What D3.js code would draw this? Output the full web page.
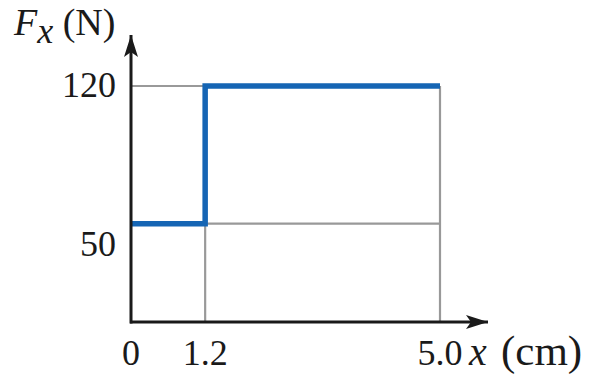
<!DOCTYPE html>
<html>
<head>
<meta charset="utf-8">
<script src="https://cdn.jsdelivr.net/npm/d3@7"></script>
<style>
  body { margin: 0; background: #fff; }
  text { font-family: "Liberation Serif", "DejaVu Serif", serif; fill: #1a1a1a; }
</style>
</head>
<body>
<div id="chart"></div>
<script>
var width = 600;
var height = 381;

// data
var stepX = [0, 1.2, 5.0];        // cm
var stepF = [50, 120, 120];       // N
var xTicks = [0, 1.2, 5.0];
var xTickLabels = ["0", "1.2", "5.0"];
var yTicks = [50, 120];
var yTickLabels = ["50", "120"];

var xScale = d3.scaleLinear().domain([0, 5.0]).range([131, 440]);
var yScale = d3.scaleLinear().domain([0, 120]).range([322, 86]);

var svg = d3.select("#chart")
  .append("svg")
  .attr("width", width)
  .attr("height", height);

// arrow heads
var defs = svg.append("defs");
defs.append("marker")
  .attr("id", "arrow")
  .attr("viewBox", "0 0 22 14")
  .attr("refX", 22)
  .attr("refY", 7)
  .attr("markerWidth", 22)
  .attr("markerHeight", 14)
  .attr("markerUnits", "userSpaceOnUse")
  .attr("orient", "auto")
  .append("path")
  .attr("d", "M0,0 L22,7 L0,14 L5,7 Z")
  .attr("fill", "#1a1a1a");

// grey guide lines
var grid = svg.append("g")
  .attr("stroke", "#999")
  .attr("stroke-width", 2.2)
  .attr("fill", "none");

grid.append("line")
  .attr("x1", xScale(0)).attr("x2", xScale(5.0))
  .attr("y1", yScale(120)).attr("y2", yScale(120));
grid.append("line")
  .attr("x1", xScale(0)).attr("x2", xScale(5.0))
  .attr("y1", yScale(50)).attr("y2", yScale(50));
grid.append("line")
  .attr("x1", xScale(1.2)).attr("x2", xScale(1.2))
  .attr("y1", yScale(0)).attr("y2", yScale(120));
grid.append("line")
  .attr("x1", xScale(5.0)).attr("x2", xScale(5.0))
  .attr("y1", yScale(0)).attr("y2", yScale(120));

// force step
var line = d3.line()
  .x(function (d, i) { return xScale(stepX[i]); })
  .y(function (d, i) { return yScale(stepF[i]); })
  .curve(d3.curveStepAfter);

svg.append("path")
  .datum(stepX)
  .attr("d", line)
  .attr("fill", "none")
  .attr("stroke", "#1565b4")
  .attr("stroke-width", 5.5)
  .attr("stroke-linejoin", "miter");

// axes
svg.append("line")
  .attr("x1", xScale(0) - 1).attr("x2", 488)
  .attr("y1", yScale(0)).attr("y2", yScale(0))
  .attr("stroke", "#1a1a1a")
  .attr("stroke-width", 3)
  .attr("marker-end", "url(#arrow)");

svg.append("line")
  .attr("x1", xScale(0)).attr("x2", xScale(0))
  .attr("y1", yScale(0) + 1.5).attr("y2", 35)
  .attr("stroke", "#1a1a1a")
  .attr("stroke-width", 3)
  .attr("marker-end", "url(#arrow)");

// tick labels
svg.selectAll(".xlab")
  .data(xTicks)
  .enter()
  .append("text")
  .attr("class", "xlab")
  .attr("x", function (d) { return xScale(d); })
  .attr("y", 365)
  .attr("text-anchor", "middle")
  .attr("font-size", "36px")
  .text(function (d, i) { return xTickLabels[i]; });

svg.selectAll(".ylab")
  .data(yTicks)
  .enter()
  .append("text")
  .attr("class", "ylab")
  .attr("x", 116)
  .attr("y", function (d) { return yScale(d) + (d == 50 ? 32 : 11); })
  .attr("text-anchor", "end")
  .attr("font-size", "36px")
  .text(function (d, i) { return yTickLabels[i]; });

// axis titles
svg.append("text")
  .attr("x", 469)
  .attr("y", 365)
  .attr("font-size", "40px")
  .attr("font-style", "italic")
  .text("x");
svg.append("text")
  .attr("x", 501)
  .attr("y", 365)
  .attr("font-size", "43px")
  .text("(cm)");

var yt = svg.append("text")
  .attr("x", 14)
  .attr("y", 35)
  .attr("font-size", "38px");
yt.append("tspan").attr("font-style", "italic").text("F");
yt.append("tspan").attr("font-style", "italic").attr("dy", 8).attr("font-size", "36px").text("x");
yt.append("tspan").attr("dy", -8).text(" (N)");
</script>
</body>
</html>
